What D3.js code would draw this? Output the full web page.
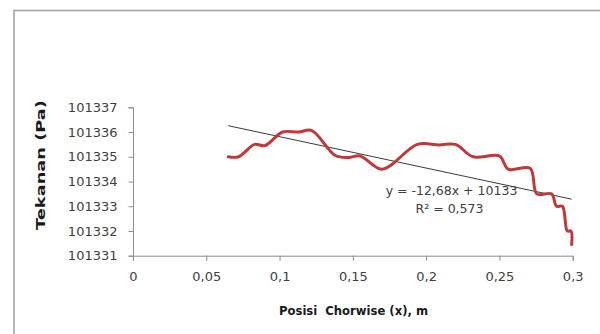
<!DOCTYPE html>
<html>
<head>
<meta charset="utf-8">
<script src="https://cdn.jsdelivr.net/npm/d3@7/dist/d3.min.js"></script>
<style>
  html, body { margin: 0; padding: 0; background: #fff; }
  svg { display: block; }
  text { font-family: "DejaVu Sans", sans-serif; }
</style>
</head>
<body>
<svg id="chart" width="600" height="334"></svg>
<script>
// ---- data ----
const xValues = [0.065, 0.072, 0.083, 0.090, 0.102, 0.113, 0.122, 0.138, 0.147, 0.155,
                 0.170, 0.194, 0.209, 0.220, 0.232, 0.250, 0.256, 0.271, 0.2755, 0.2855,
                 0.289, 0.293, 0.2963, 0.2988, 0.2993];
const yValues = [101335.0, 101335.0, 101335.5, 101335.45, 101336.0, 101336.0, 101336.06, 101335.05, 101334.97, 101335.03,
                 101334.5, 101335.5, 101335.48, 101335.5, 101335.0, 101335.03, 101334.5, 101334.53, 101333.5, 101333.5,
                 101333.0, 101333.0, 101332.0, 101332.0, 101331.45];
const xTicks = [0, 0.05, 0.1, 0.15, 0.2, 0.25, 0.3];
const yTicks = [101331, 101332, 101333, 101334, 101335, 101336, 101337];
const trendSlope = -12.68;
const trendIntercept = 101337.08;
const equationLines = ["y = -12,68x + 10133", "R\u00B2 = 0,573"];
const xTitle = "Posisi  Chorwise (x), m";
const yTitle = "Tekanan (Pa)";

// ---- drawing ----
const svg = d3.select("#chart");
const x = d3.scaleLinear().domain([0, 0.3]).range([133, 572.7]);
const y = d3.scaleLinear().domain([101331, 101337]).range([255.7, 107.3]);
const fmtX = d => d === 0 ? "0" : String(d).replace(".", ",");

// outer chart frame
svg.append("rect").attr("x", 14).attr("y", 10.5).attr("width", 620).attr("height", 360)
  .attr("fill", "#fff").attr("stroke", "#a6a6a6").attr("stroke-width", 1.6);

// x axis
const xAxis = svg.append("g").attr("transform", `translate(0,${y(101331)})`)
  .call(d3.axisBottom(x).tickValues(xTicks).tickFormat(fmtX).tickSizeOuter(0).tickSize(5).tickPadding(11));
// y axis
const yAxis = svg.append("g").attr("transform", `translate(${x(0)},0)`)
  .call(d3.axisLeft(y).tickValues(yTicks).tickFormat(d3.format("d")).tickSizeOuter(0).tickSize(4.5).tickPadding(11));
[xAxis, yAxis].forEach(g => {
  g.select(".domain").attr("stroke", "#8c8c8c").attr("stroke-width", 1);
  g.selectAll(".tick line").attr("stroke", "#8c8c8c");
  g.selectAll(".tick text").attr("fill", "#404040").style("font-size", "13px")
    .style("font-family", "'DejaVu Sans', sans-serif");
});

// trendline
const xExt = d3.extent(xValues);
svg.append("line")
  .attr("x1", x(xExt[0])).attr("y1", y(trendSlope * xExt[0] + trendIntercept))
  .attr("x2", x(xExt[1])).attr("y2", y(trendSlope * xExt[1] + trendIntercept))
  .attr("stroke", "#3a3a3a").attr("stroke-width", 1);

// series
const pts = xValues.map((v, i) => [v, yValues[i]]);
svg.append("path").datum(pts)
  .attr("d", d3.line().x(d => x(d[0])).y(d => y(d[1])).curve(d3.curveCatmullRom.alpha(0.5)))
  .attr("fill", "none").attr("stroke", "#c0393a").attr("stroke-width", 3)
  .attr("stroke-linejoin", "round").attr("stroke-linecap", "round");

// equation
svg.append("text").attr("x", 451.5).attr("y", 195).attr("text-anchor", "middle")
  .attr("fill", "#404040").style("font-size", "12.5px").text(equationLines[0]);
svg.append("text").attr("x", 449.5).attr("y", 213.3).attr("text-anchor", "middle")
  .attr("fill", "#404040").style("font-size", "12.5px").text(equationLines[1]);

// axis titles
svg.append("text").attr("x", 353.5).attr("y", 315).attr("text-anchor", "middle")
  .attr("fill", "#1a1a1a").style("font-size", "12.5px").style("font-weight", "bold")
  .style("white-space", "pre").attr("xml:space", "preserve")
  .attr("textLength", 149).attr("lengthAdjust", "spacingAndGlyphs").text(xTitle);
svg.append("text").attr("transform", "translate(44.5,165) rotate(-90)").attr("text-anchor", "middle")
  .attr("fill", "#1a1a1a").style("font-size", "13px").style("font-weight", "bold")
  .attr("textLength", 130).attr("lengthAdjust", "spacingAndGlyphs").text(yTitle);
</script>
</body>
</html>
